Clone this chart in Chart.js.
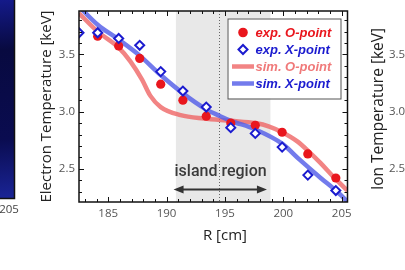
<!DOCTYPE html>
<html>
<head>
<meta charset="utf-8">
<script src="https://cdn.jsdelivr.net/npm/chart.js@4.4.1/dist/chart.umd.min.js"></script>
<style>
    html, body { margin: 0; padding: 0; background: #fff; }
    #wrap { width: 405px; height: 270px; position: relative; }
</style>
</head>
<body>
<div id="wrap"><canvas id="teChart" width="405" height="270"></canvas></div>
<script>
// measured points (R in cm, Te in keV)
const rExp   = [182.5, 184.1, 185.9, 187.7, 189.5, 191.4, 193.4, 195.5, 197.6, 199.9, 202.1, 204.5];
const teExpO = [null, 3.66, 3.575, 3.465, 3.24, 3.10, 2.96, 2.90, 2.88, 2.82, 2.63, 2.42];
const teExpX = [3.69, 3.69, 3.64, 3.58, 3.35, 3.18, 3.04, 2.86, 2.81, 2.69, 2.445, 2.31];

// simulated profiles
const rSimO  = [182.5, 184.1, 185.9, 186.9, 187.9, 188.6, 189.5, 191.2, 193.2, 195.5, 197.6, 198.8, 199.9, 201.2, 202.3, 203.2, 204.3, 205.5];
const teSimO = [3.86, 3.70, 3.56, 3.44, 3.28, 3.14, 3.04, 2.97, 2.94, 2.92, 2.90, 2.87, 2.82, 2.74, 2.64, 2.55, 2.43, 2.31];
const rSimX  = [182.5, 184.1, 185.9, 187.7, 189.5, 191.4, 193.4, 194.6, 195.5, 197.6, 199.9, 201.4, 203.2, 204.5, 205.5];
const teSimX = [3.92, 3.76, 3.63, 3.49, 3.32, 3.16, 3.02, 2.96, 2.92, 2.845, 2.72, 2.58, 2.42, 2.31, 2.215];

const seriesLabels = ["exp. O-point", "exp. X-point", "sim. O-point", "sim. X-point"];

// island region (R range, separatrix line) and its label
const islandFrom = 190.8;
const islandTo = 198.9;
const islandMid = 194.5;
const islandText = "island region";
const islandTextTe = 2.47;
const islandArrowTe = 2.32;
const islandArrowFrom = 190.6;
const islandArrowTo = 198.6;

const xTitle = "R [cm]";
const yTitle = "Electron Temperature [keV]";
const ionTitle = "Ion Temperature [keV]";
const ionTicks = [3.5, 3.0, 2.5];
const leftPanelTick = "205";

function pts(xs, ys) {
    return xs.map((x, i) => ({ x: x, y: ys[i] }));
}

const RED = "#e9161d";
const BLUE = "#1b1bcf";
const SIM_RED = "rgba(238, 98, 98, 0.78)";
const SIM_BLUE = "rgba(84, 94, 232, 0.82)";

function arrowHead(ctx, x, y, dir) {
    ctx.beginPath();
    ctx.moveTo(x, y);
    ctx.lineTo(x - dir * 10, y - 4);
    ctx.lineTo(x - dir * 10, y + 4);
    ctx.closePath();
    ctx.fill();
}

const decor = {
    id: "decor",
    beforeDatasetsDraw(chart) {
        const { ctx, chartArea: a, scales: { x } } = chart;
        ctx.save();
        const x0 = x.getPixelForValue(islandFrom);
        const x1 = x.getPixelForValue(islandTo);
        ctx.fillStyle = "#e8e8e8";
        ctx.fillRect(x0, a.top, x1 - x0, a.bottom - a.top);

        const xm = Math.round(x.getPixelForValue(islandMid)) + 0.5;
        ctx.strokeStyle = "#666";
        ctx.lineWidth = 1;
        ctx.setLineDash([1, 2]);
        ctx.beginPath();
        ctx.moveTo(xm, a.top);
        ctx.lineTo(xm, a.bottom);
        ctx.stroke();
        ctx.restore();
    },
    afterDatasetsDraw(chart) {
        const { ctx, chartArea: a, scales: { x, y } } = chart;
        ctx.save();

        // island label and arrow
        ctx.fillStyle = "#3a3a3a";
        ctx.font = "500 16px Roboto";
        ctx.textAlign = "center";
        ctx.textBaseline = "middle";
        ctx.fillText(islandText, x.getPixelForValue(islandMid) + 1.5, y.getPixelForValue(islandTextTe));

        const ay = y.getPixelForValue(islandArrowTe);
        const ax0 = x.getPixelForValue(islandArrowFrom);
        const ax1 = x.getPixelForValue(islandArrowTo);
        ctx.strokeStyle = "#333";
        ctx.fillStyle = "#333";
        ctx.lineWidth = 2;
        ctx.beginPath();
        ctx.moveTo(ax0 + 6, ay);
        ctx.lineTo(ax1 - 6, ay);
        ctx.stroke();
        arrowHead(ctx, ax0, ay, -1);
        arrowHead(ctx, ax1, ay, 1);

        // frame
        ctx.strokeStyle = "#111";
        ctx.lineWidth = 1.5;
        ctx.strokeRect(a.left, a.top, a.right - a.left, a.bottom - a.top);

        // inward ticks, minor every 1 cm / 0.1 keV
        ctx.lineWidth = 1;
        ctx.beginPath();
        for (let r = Math.ceil(x.min); r <= x.max; r++) {
            const px = Math.round(x.getPixelForValue(r)) + 0.5;
            const len = r % 5 === 0 ? 5 : 3;
            ctx.moveTo(px, a.bottom); ctx.lineTo(px, a.bottom - len);
            ctx.moveTo(px, a.top); ctx.lineTo(px, a.top + len);
        }
        for (let k = Math.ceil(y.min * 10); k <= y.max * 10; k++) {
            const py = Math.round(y.getPixelForValue(k / 10)) + 0.5;
            const len = k % 5 === 0 ? 5 : 3;
            ctx.moveTo(a.left, py); ctx.lineTo(a.left + len, py);
            ctx.moveTo(a.right, py); ctx.lineTo(a.right - len, py);
        }
        ctx.stroke();
        ctx.restore();
    },
    afterDraw(chart) {
        const { ctx, chartArea: a, scales: { x, y } } = chart;
        ctx.save();

        // legend box
        const bx = a.right - 120, by = a.top + 7.5, bw = 113, bh = 80;
        ctx.fillStyle = "#fff";
        ctx.fillRect(bx, by, bw, bh);
        ctx.strokeStyle = "#555";
        ctx.lineWidth = 1;
        ctx.strokeRect(bx + 0.5, by + 0.5, bw, bh);
        ctx.font = "italic 700 13px 'Liberation Sans'";
        ctx.textAlign = "left";
        ctx.textBaseline = "middle";
        const textColors = [RED, BLUE, "#f07a7a", BLUE];
        chart.data.datasets.forEach((ds, i) => {
            const cy = by + 14 + i * 17;
            const mx = bx + 15.5;
            if (i === 0) {
                ctx.fillStyle = RED;
                ctx.beginPath();
                ctx.arc(mx, cy, 4.8, 0, Math.PI * 2);
                ctx.fill();
            } else if (i === 1) {
                ctx.strokeStyle = BLUE;
                ctx.lineWidth = 2;
                ctx.beginPath();
                ctx.moveTo(mx - 4.5, cy); ctx.lineTo(mx, cy - 4.5);
                ctx.lineTo(mx + 4.5, cy); ctx.lineTo(mx, cy + 4.5);
                ctx.closePath();
                ctx.stroke();
            } else {
                ctx.strokeStyle = ds.borderColor;
                ctx.lineWidth = 4.5;
                ctx.beginPath();
                ctx.moveTo(mx - 11, cy); ctx.lineTo(mx + 11, cy);
                ctx.stroke();
            }
            ctx.fillStyle = textColors[i];
            ctx.fillText(ds.label, bx + 28, cy + 0.5);
        });

        // x title
        ctx.fillStyle = "#222";
        ctx.font = "15px 'Open Sans'";
        ctx.textAlign = "center";
        ctx.textBaseline = "middle";
        ctx.fillText(xTitle, x.getPixelForValue(195), 236);

        // left neighbour panel (cut off)
        const g = ctx.createLinearGradient(0, 0, 14, 198);
        g.addColorStop(0, "#141a8a");
        g.addColorStop(0.25, "#080a40");
        g.addColorStop(0.7, "#0a0c50");
        g.addColorStop(1, "#1a2496");
        ctx.fillStyle = g;
        ctx.fillRect(0, 0, 14, 198);
        ctx.strokeStyle = "#111";
        ctx.lineWidth = 1.5;
        ctx.beginPath();
        ctx.moveTo(14.5, 0); ctx.lineTo(14.5, 198.5); ctx.lineTo(0, 198.5);
        ctx.stroke();
        ctx.fillStyle = "#444";
        ctx.font = "11.5px 'Open Sans'";
        ctx.fillText(leftPanelTick, 9, 210);

        // right neighbour panel (cut off)
        ctx.save();
        ctx.translate(379, 109);
        ctx.rotate(-Math.PI / 2);
        ctx.fillStyle = "#222";
        ctx.font = "15.5px 'Open Sans'";
        ctx.fillText(ionTitle, 0, 0);
        ctx.restore();
        ctx.fillStyle = "#555";
        ctx.font = "11.5px 'Open Sans'";
        ctx.textAlign = "left";
        ionTicks.forEach(v => ctx.fillText(v.toFixed(1), 389, y.getPixelForValue(v)));

        ctx.restore();
    }
};

new Chart(document.getElementById("teChart"), {
    type: "scatter",
    data: {
        datasets: [
            {
                label: seriesLabels[0],
                data: pts(rExp, teExpO),
                pointStyle: "circle",
                pointRadius: 4.6,
                backgroundColor: RED,
                borderColor: RED,
                borderWidth: 0,
                order: 1,
                clip: 0
            },
            {
                label: seriesLabels[1],
                data: pts(rExp, teExpX),
                pointStyle: "rectRot",
                pointRadius: 4.5,
                backgroundColor: "#fff",
                borderColor: BLUE,
                borderWidth: 2,
                order: 0,
                clip: 0
            },
            {
                label: seriesLabels[2],
                data: pts(rSimO, teSimO),
                showLine: true,
                pointRadius: 0,
                borderColor: SIM_RED,
                borderWidth: 4.5,
                cubicInterpolationMode: "monotone",
                order: 3,
                clip: 0
            },
            {
                label: seriesLabels[3],
                data: pts(rSimX, teSimX),
                showLine: true,
                pointRadius: 0,
                borderColor: SIM_BLUE,
                borderWidth: 4.5,
                cubicInterpolationMode: "monotone",
                order: 2,
                clip: 0
            }
        ]
    },
    options: {
        responsive: false,
        animation: false,
        layout: { padding: { left: 0, top: 11, right: 57.5, bottom: 0 } },
        plugins: {
            legend: { display: false },
            tooltip: { enabled: false }
        },
        scales: {
            x: {
                type: "linear",
                min: 182.5,
                max: 205.5,
                grid: { display: false, drawTicks: false },
                border: { display: false },
                ticks: {
                    stepSize: 5,
                    includeBounds: false,
                    autoSkip: false,
                    maxRotation: 0,
                    padding: 5,
                    color: "#555",
                    font: { family: "Open Sans", size: 11.5 },
                    callback: v => (v % 5 === 0 ? v : "")
                },
                afterFit: s => { s.height = 68; }
            },
            y: {
                type: "linear",
                min: 2.21,
                max: 3.88,
                grid: { display: false, drawTicks: false },
                border: { display: false },
                title: {
                    display: true,
                    text: yTitle,
                    color: "#222",
                    font: { family: "Open Sans", size: 15 },
                    padding: { top: 38, bottom: 0 }
                },
                ticks: {
                    stepSize: 0.5,
                    includeBounds: false,
                    autoSkip: false,
                    padding: 4,
                    color: "#555",
                    font: { family: "Open Sans", size: 11.5 },
                    callback: v => (Math.abs(v * 2 - Math.round(v * 2)) < 1e-6 ? v.toFixed(1) : "")
                },
                afterFit: s => { s.width = 79; }
            }
        }
    },
    plugins: [decor]
});
</script>
</body>
</html>
